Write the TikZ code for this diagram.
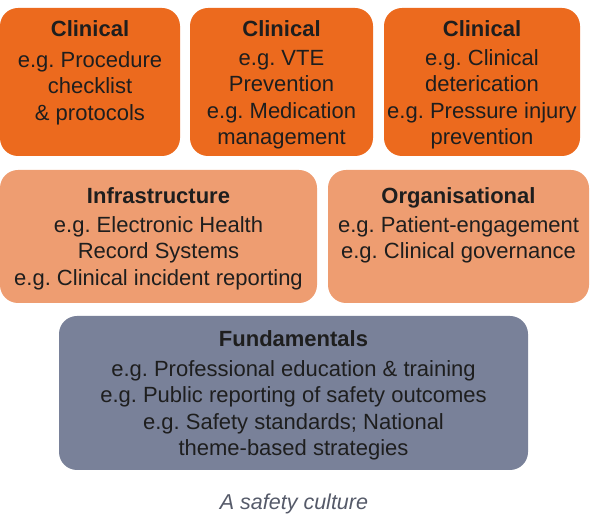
\documentclass[tikz,border=0pt]{standalone}
\usepackage{fontspec}
\setmainfont{Liberation Sans}
\frenchspacing
\definecolor{clin}{RGB}{236,106,30}
\definecolor{infra}{RGB}{238,157,113}
\definecolor{fund}{RGB}{121,129,153}
\definecolor{txt}{RGB}{30,30,30}
\definecolor{cap}{RGB}{85,90,105}
\begin{document}
\begin{tikzpicture}[x=1pt,y=-1pt,
  boxc/.style={draw=none,rounded corners=18pt,fill=clin},
  boxi/.style={draw=none,rounded corners=18pt,fill=infra},
  boxf/.style={draw=none,rounded corners=18pt,fill=fund},
  btext/.style={anchor=north,align=center,inner sep=0pt,text=txt,font=\fontsize{22}{26.3}\selectfont}
]
\useasboundingbox (0,0) rectangle (590,526);
\path[boxc] (0,8) rectangle (180,156);
\path[boxc] (190,8) rectangle (373,156);
\path[boxc] (384,8) rectangle (580,156);
\path[boxi] (0,170) rectangle (317,303);
\path[boxi] (328,170) rectangle (589,303);
\path[boxf] (59,316) rectangle (528,470);
\node[btext] (t1) at (90,20) {\textbf{Clinical}\\[5pt]e.g. Procedure\\checklist\\\& protocols};
\node[btext] (t2) at (281.5,20) {\textbf{Clinical}\\[3pt]e.g. VTE\\Prevention\\e.g. Medication\\management};
\node[btext] (t3) at (482,20) {\textbf{Clinical}\\[3pt]e.g. Clinical\\deterication\\e.g. Pressure injury\\prevention};
\node[btext] (t4) at (158.5,187) {\textbf{Infrastructure}\\[3pt]e.g. Electronic Health\\Record Systems\\e.g. Clinical incident reporting};
\node[btext] (t5) at (458.5,187) {\textbf{Organisational}\\[3pt]e.g. Patient-engagement\\e.g. Clinical governance};
\node[btext] (t6) at (293.5,330) {\textbf{Fundamentals}\\[4pt]e.g. Professional education \& training\\e.g. Public reporting of safety outcomes\\e.g. Safety standards; National\\theme-based strategies};
\node[anchor=base,inner sep=0pt,text=cap,font=\fontsize{21.5}{26}\selectfont\itshape] (cap) at (294,510) {A safety culture};
\end{tikzpicture}
\end{document}
